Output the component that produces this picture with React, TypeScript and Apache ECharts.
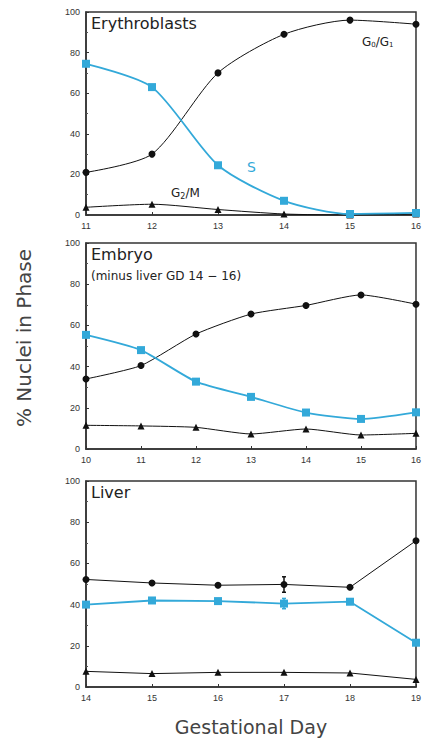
import React, { useEffect, useRef } from "react";
import * as echarts from "echarts";

const eryDays = [11, 12, 13, 14, 15, 16];
const eryG0G1 = [21, 30, 70, 89, 96, 94];
const eryS = [74.5, 63, 24.5, 7, 0.5, 1];
const eryG2M = [3.8, 5.3, 2.7, 0.5, 0, 0.5];

const embDays = [10, 11, 12, 13, 14, 15, 16];
const embG0G1 = [34, 40.5, 55.8, 65.5, 69.7, 74.8, 70.3];
const embS = [55.4, 48, 32.7, 25.3, 17.7, 14.6, 17.8];
const embG2M = [11.5, 11.2, 10.5, 7.3, 9.7, 6.8, 7.6];

const livDays = [14, 15, 16, 17, 18, 19];
const livG0G1 = [52.2, 50.5, 49.4, 49.8, 48.4, 71];
const livS = [40, 42, 41.7, 40.5, 41.4, 21.5];
const livG2M = [7.6, 6.5, 7.1, 7.1, 6.8, 3.7];
const livErrDay = 17;
const livErrG0G1 = [46, 53.5];
const livErrS = [38, 43];

const yTicks = [0, 20, 40, 60, 80, 100];

const BLUE = "#33a9d9";
const BLACK = "#111";
const FONT = "Liberation Sans";
const TFONT = "DejaVu Sans";

const zip = (xs: number[], ys: number[]) => xs.map((x, i) => [x, ys[i]]);

export default function App() {
  const ref = useRef<HTMLDivElement>(null);
  useEffect(() => {
    if (!ref.current) return;
    const chart = echarts.init(ref.current, null, { renderer: "svg" });
    const grids = [
      { left: 86, width: 331, top: 12, height: 203 },
      { left: 86, width: 331, top: 243, height: 206 },
      { left: 86, width: 331, top: 481, height: 206 },
    ].map((g) => ({ ...g, show: true, borderColor: "#333", borderWidth: 1.5, backgroundColor: "#fff" }));
    const panels = [
      { days: eryDays, g0: eryG0G1, s: eryS, g2: eryG2M, smooth: 0.25 },
      { days: embDays, g0: embG0G1, s: embS, g2: embG2M, smooth: 0.2 },
      { days: livDays, g0: livG0G1, s: livS, g2: livG2M, smooth: false },
    ];
    const xAxis = panels.map((p, i) => ({
      type: "value",
      gridIndex: i,
      min: p.days[0],
      max: p.days[p.days.length - 1],
      interval: 1,
      splitLine: { show: false },
      axisLine: { lineStyle: { color: "#333", width: 1.5 } },
      axisTick: { inside: true, length: 3, lineStyle: { color: "#333" } },
      axisLabel: { fontSize: 9, color: "#333", fontFamily: FONT, margin: 6 },
    }));
    const yAxis = panels.map((_, i) => ({
      type: "value",
      gridIndex: i,
      min: yTicks[0],
      max: yTicks[yTicks.length - 1],
      interval: 20,
      splitLine: { show: false },
      axisLine: { lineStyle: { color: "#333", width: 1.5 } },
      axisTick: { inside: true, length: 3, lineStyle: { color: "#333" } },
      minorTick: { show: true, splitNumber: 2, length: 2, lineStyle: { color: "#555" } },
      axisLabel: { fontSize: 9, color: "#333", fontFamily: FONT, margin: 6 },
    }));
    const series: any[] = [];
    panels.forEach((p, i) => {
      series.push({
        type: "line", xAxisIndex: i, yAxisIndex: i, data: zip(p.days, p.g2),
        symbol: "triangle", symbolSize: 7, smooth: p.smooth,
        lineStyle: { color: BLACK, width: 1 }, itemStyle: { color: BLACK },
      });
      series.push({
        type: "line", xAxisIndex: i, yAxisIndex: i, data: zip(p.days, p.g0),
        symbol: "circle", symbolSize: 7, smooth: p.smooth,
        lineStyle: { color: BLACK, width: 1 }, itemStyle: { color: BLACK },
      });
      series.push({
        type: "line", xAxisIndex: i, yAxisIndex: i, data: zip(p.days, p.s),
        symbol: "rect", symbolSize: 8, smooth: p.smooth,
        lineStyle: { color: BLUE, width: 1.8 }, itemStyle: { color: BLUE },
      });
    });
    series.push({
      type: "custom", xAxisIndex: 2, yAxisIndex: 2,
      data: [
        [livErrDay, livErrG0G1[0], livErrG0G1[1], 0],
        [livErrDay, livErrS[0], livErrS[1], 1],
      ],
      renderItem: (params: any, api: any) => {
        const lo = api.coord([api.value(0), api.value(1)]);
        const hi = api.coord([api.value(0), api.value(2)]);
        const c = api.value(3) === 1 ? BLUE : BLACK;
        return {
          type: "group",
          children: [
            { type: "line", shape: { x1: lo[0], y1: lo[1], x2: hi[0], y2: hi[1] }, style: { stroke: c, lineWidth: 1.5 } },
            { type: "line", shape: { x1: lo[0] - 2, y1: lo[1], x2: lo[0] + 2, y2: lo[1] }, style: { stroke: c, lineWidth: 1.5 } },
            { type: "line", shape: { x1: hi[0] - 2, y1: hi[1], x2: hi[0] + 2, y2: hi[1] }, style: { stroke: c, lineWidth: 1.5 } },
          ],
        };
      },
      z: 1,
    });
    const t = (x: number, y: number, text: string, fontSize: number, fill = "#222", extra: any = {}) => ({
      type: "text", x, y, style: { text, fontSize, fill, fontFamily: TFONT, ...extra }, z: 100,
    });
    chart.setOption({
      animation: false,
      grid: grids,
      xAxis,
      yAxis,
      series,
      graphic: [
        t(91, 15, "Erythroblasts", 16),
        t(91, 246, "Embryo", 16),
        t(91, 270, "(minus liver GD 14 \u2212 16)", 12),
        t(91, 484, "Liver", 16),
        {
          type: "text", x: 362, y: 35, z: 100,
          style: { text: "G{sub|0}/G{sub|1}", fontSize: 12, fill: "#222", fontFamily: TFONT, rich: { sub: { fontSize: 7, padding: [6, 0, 0, 0], fill: "#222", fontFamily: TFONT } } },
        },
        t(247, 160, "S", 14, BLUE),
        {
          type: "text", x: 171, y: 185, z: 100,
          style: { text: "G{sub|2}/M", fontSize: 12, fill: "#222", fontFamily: TFONT, rich: { sub: { fontSize: 8, padding: [7, 0, 0, 0], fill: "#222", fontFamily: TFONT } } },
        },
        t(251, 727, "Gestational Day", 19, "#444", { align: "center", verticalAlign: "middle" }),
        {
          type: "text", x: 24, y: 338, rotation: Math.PI / 2, z: 100,
          style: { text: "% Nuclei in Phase", fontSize: 20, fill: "#444", fontFamily: TFONT, align: "center", verticalAlign: "middle" },
        },
      ],
    });
    return () => chart.dispose();
  }, []);
  return <div ref={ref} style={{ width: 424, height: 741, position: "absolute", left: 0, top: 0 }} />;
}
